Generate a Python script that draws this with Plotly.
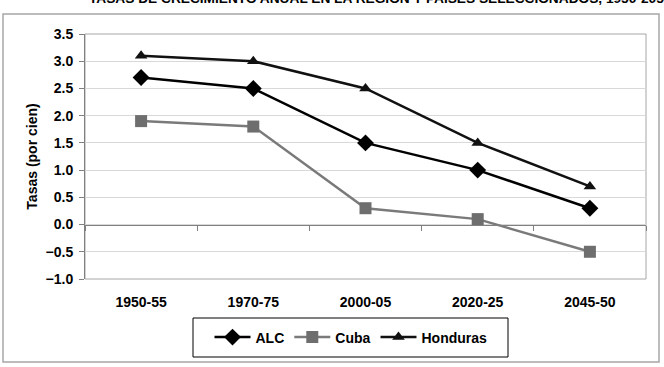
import plotly.graph_objects as go

categories = ["1950-55", "1970-75", "2000-05", "2020-25", "2045-50"]
alc = [2.7, 2.5, 1.5, 1.0, 0.3]
cuba = [1.9, 1.8, 0.3, 0.1, -0.5]
honduras = [3.1, 3.0, 2.5, 1.5, 0.7]
y_ticks = [-1.0, -0.5, 0.0, 0.5, 1.0, 1.5, 2.0, 2.5, 3.0, 3.5]
title_text = "TASAS DE CRECIMIENTO ANUAL EN LA REGIÓN Y PAÍSES SELECCIONADOS, 1950-2050"
y_title = "Tasas (por cien)"

FONT = "Arial, Liberation Sans, sans-serif"
W, H = 664, 367
L, R, T, B = 85, 18, 34, 88
PW, PH = W - L - R, H - T - B


def px_x(x):
    return (x - L) / PW


def px_y(y):
    return (H - B - y) / PH


fig = go.Figure()
fig.add_trace(go.Scatter(x=categories, y=alc, name="ALC", mode="lines+markers",
                         line=dict(color="#000000", width=2.5),
                         marker=dict(symbol="diamond", size=13, color="#000000")))
fig.add_trace(go.Scatter(x=categories, y=cuba, name="Cuba", mode="lines+markers",
                         line=dict(color="#7a7a7a", width=2.5),
                         marker=dict(symbol="square", size=12, color="#6e6e6e")))
fig.add_trace(go.Scatter(x=categories, y=honduras, name="Honduras", mode="lines+markers",
                         line=dict(color="#111111", width=2.5),
                         marker=dict(symbol="triangle-up", size=11, color="#111111")))
# invisible helper trace to draw the category axis at y = 0
fig.add_trace(go.Scatter(x=categories, y=alc, xaxis="x2", mode="markers",
                         marker=dict(opacity=0), showlegend=False, hoverinfo="skip"))

ymin, ymax = y_ticks[0], y_ticks[-1]
pos0 = (0 - ymin) / (ymax - ymin)

fig.update_layout(
    width=W, height=H,
    margin=dict(l=L, r=R, t=T, b=B),
    paper_bgcolor="white", plot_bgcolor="white",
    font=dict(family=FONT, size=14, color="#000000"),
    showlegend=True,
    legend=dict(orientation="h", xref="container", yref="container",
                x=351 / W, xanchor="center", y=1 - 337.5 / H, yanchor="middle",
                borderwidth=0, bgcolor="rgba(0,0,0,0)",
                font=dict(family=FONT, size=14, color="#000000", weight="bold"),
                itemwidth=36, tracegroupgap=0),
    xaxis=dict(type="category", categoryarray=categories, range=[-0.5, len(categories) - 0.5],
               showgrid=False, showline=False, ticks="", zeroline=False,
               tickfont=dict(family=FONT, size=14, color="#000000", weight="bold"),
               ticklabelstandoff=13),
    xaxis2=dict(type="category", categoryarray=categories, range=[-0.5, len(categories) - 0.5],
                overlaying="x", anchor="free", position=pos0, side="bottom",
                showgrid=False, showline=True, linecolor="#808080", linewidth=1,
                ticks="outside", ticklen=5, tickcolor="#808080", tickson="boundaries",
                showticklabels=False, zeroline=False),
    yaxis=dict(range=[ymin, ymax], tickvals=y_ticks, tickformat=".1f",
               showgrid=True, gridcolor="#d9d9d9", gridwidth=1,
               zeroline=False,
               showline=True, linecolor="#808080", linewidth=1,
               ticks="outside", ticklen=5, tickcolor="#808080",
               tickfont=dict(family=FONT, size=14, color="#000000", weight="bold"),
               ticklabelstandoff=3,
               title=dict(text=y_title, standoff=4,
                          font=dict(family=FONT, size=14, color="#000000", weight="bold"))),
    shapes=[
        dict(type="rect", xref="paper", yref="paper", x0=0, x1=1, y0=0, y1=1,
             line=dict(color="#a6a6a6", width=1), layer="below"),
        dict(type="rect", xref="paper", yref="paper",
             x0=px_x(3), x1=px_x(659), y0=px_y(362), y1=px_y(14),
             line=dict(color="#a6a6a6", width=1.5), layer="below"),
        dict(type="rect", xref="paper", yref="paper",
             x0=px_x(193), x1=px_x(508), y0=px_y(357), y1=px_y(318),
             line=dict(color="#000000", width=1), layer="below"),
    ],
    annotations=[
        dict(text="<b>" + title_text + "</b>", xref="paper", yref="paper",
             x=px_x(87), xanchor="left",
             y=px_y(-2), yanchor="middle", showarrow=False,
             font=dict(family=FONT, size=13.7, color="#000000")),
    ],
)

fig.write_html("out.html")
